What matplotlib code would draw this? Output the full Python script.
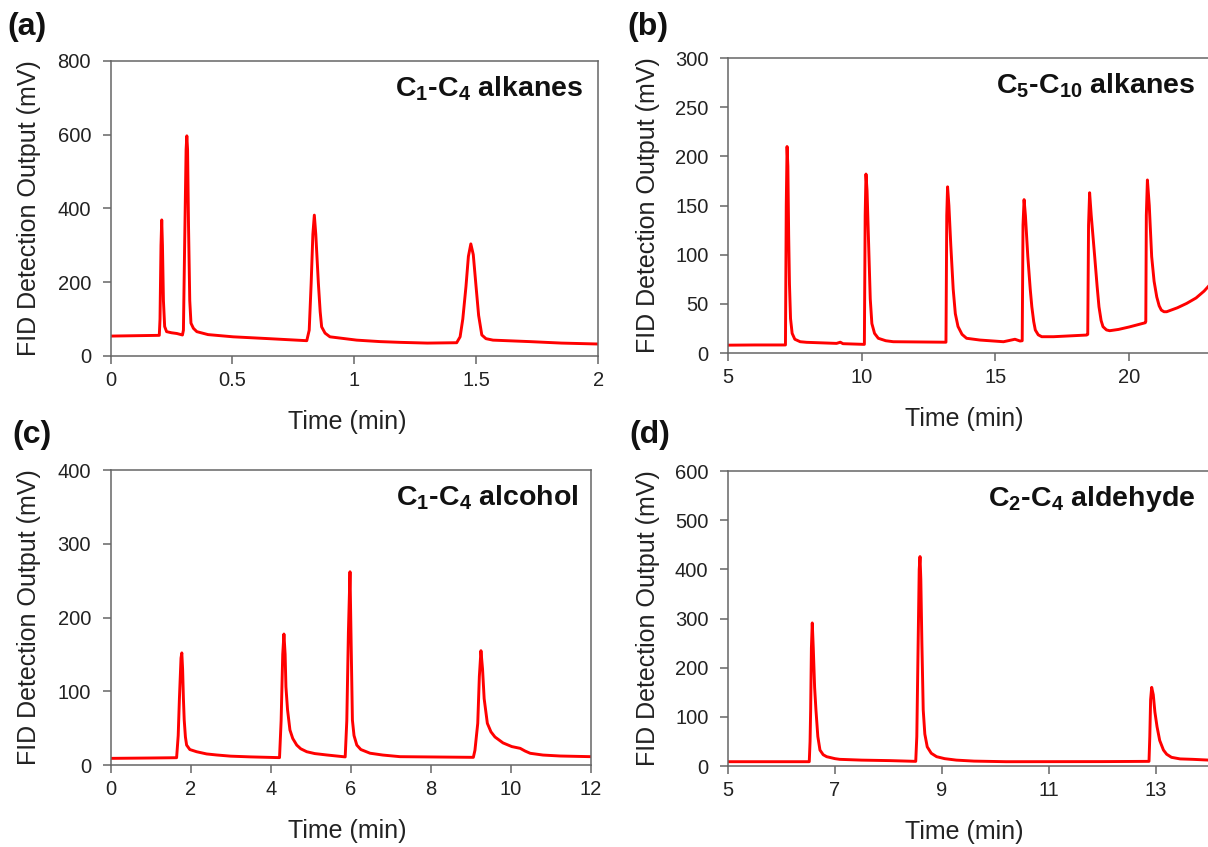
import matplotlib
matplotlib.use("Agg")
import matplotlib.pyplot as plt

plt.rcParams['font.family'] = ['Liberation Sans', 'DejaVu Sans']
plt.rcParams['mathtext.fontset'] = 'custom'
plt.rcParams['mathtext.rm'] = 'Liberation Sans:bold'
plt.rcParams['mathtext.default'] = 'regular'

# (a) C1-C4 alkanes
t_a = [0, 0.1, 0.2, 0.203, 0.207, 0.21, 0.213, 0.217, 0.222, 0.23, 0.25, 0.272,
       0.295, 0.299, 0.304, 0.31, 0.313, 0.316, 0.32, 0.325, 0.33, 0.34, 0.354,
       0.4, 0.503, 0.65, 0.805, 0.815, 0.823, 0.83, 0.836, 0.842, 0.8526, 0.86,
       0.866, 0.88, 0.9, 1.01, 1.106, 1.188, 1.3, 1.42, 1.434, 1.445, 1.458,
       1.468, 1.478, 1.488, 1.4995, 1.51, 1.523, 1.54, 1.569, 1.72, 1.85, 2.0]
v_a = [54, 55, 56, 100, 300, 369, 300, 150, 80, 66, 63, 61,
       57, 70, 300, 560, 597, 560, 350, 150, 89, 75, 66,
       58, 52, 47, 41.5, 70, 197, 330, 382, 330, 197, 120,
       79, 62, 52, 43, 39, 37, 35, 36, 52, 100, 188,
       270, 304, 275, 188, 110, 57, 47, 43, 39, 35, 32.5]

# (b) C5-C10 alkanes
t_b = [5, 6, 7.15, 7.18, 7.21, 7.24, 7.27, 7.3, 7.34, 7.4, 7.5, 7.7, 7.94,
       9.06, 9.2, 9.3, 10.1, 10.13, 10.16, 10.2, 10.26, 10.32, 10.38, 10.48,
       10.62, 10.9, 11.18, 13.15, 13.18, 13.21, 13.26, 13.33, 13.42, 13.5, 13.6,
       13.75, 13.92, 14.42, 15.3, 15.73, 15.92, 16.0, 16.03, 16.07, 16.12, 16.21,
       16.3, 16.36, 16.43, 16.49, 16.6, 16.73, 17.17, 18.41, 18.45, 18.48, 18.52,
       18.58, 18.71, 18.8, 18.87, 18.95, 19.02, 19.15, 19.27, 19.6, 20.0, 20.6,
       20.62, 20.64, 20.68, 20.75, 20.84, 20.93, 21.03, 21.12, 21.2, 21.3, 21.4,
       21.8, 22.15, 22.5, 22.8, 23.0]
v_b = [8, 8.2, 8.2, 150, 210, 190, 120, 70, 35, 20, 14, 11.5, 10.9,
       9.8, 11, 9.5, 8.8, 140, 182, 165, 110, 55, 30, 20,
       15, 12.5, 11.5, 11, 140, 169, 150, 110, 65, 40, 27,
       19, 15, 13.2, 11.5, 14, 12.2, 12.5, 130, 156, 140, 98,
       65, 47, 32, 23.4, 18.5, 16.6, 16.6, 18.3, 19, 130, 163,
       140, 98, 68, 47, 33, 26.8, 23.5, 22.7, 24, 26.5, 30.8,
       32, 140, 176, 150, 98, 73, 57, 48, 43.7, 42, 42,
       46, 50.5, 56, 63, 69]

# (c) C1-C4 alcohol
t_c = [0, 1.0, 1.65, 1.69, 1.72, 1.76, 1.78, 1.8, 1.82, 1.84, 1.87, 1.9, 1.98,
       2.15, 2.4, 2.65, 3.0, 3.5, 4.22, 4.26, 4.3, 4.33, 4.36, 4.38, 4.42, 4.48,
       4.55, 4.65, 4.75, 4.9, 5.1, 5.4, 5.86, 5.9, 5.94, 5.98, 6.01, 6.04, 6.08,
       6.15, 6.25, 6.48, 6.8, 7.23, 9.06, 9.1, 9.17, 9.21, 9.25, 9.29, 9.33, 9.41,
       9.5, 9.6, 9.8, 10.02, 10.15, 10.23, 10.35, 10.48, 10.8, 11.23, 12.0]
v_c = [9, 9.5, 9.9, 40, 90, 145, 152, 130, 90, 61, 38, 27, 21,
       18, 15, 13.6, 12, 11, 10, 60, 150, 177.6, 150, 106, 75, 47.5,
       36, 27, 22, 18, 15.5, 13.6, 11, 60, 180, 262, 160, 61, 40,
       27, 21, 16, 13.5, 11.3, 10.4, 20, 56.5, 120, 155, 130, 90, 56.5,
       45, 38, 30, 25, 23.5, 22.6, 19, 15.9, 13.5, 12.2, 11.3]

# (d) C2-C4 aldehyde
t_d = [5, 6.0, 6.52, 6.535, 6.546, 6.56, 6.576, 6.595, 6.62, 6.645, 6.68, 6.72,
       6.78, 6.845, 7.0, 7.09, 7.5, 8.03, 8.51, 8.53, 8.555, 8.575, 8.59, 8.605,
       8.625, 8.65, 8.68, 8.725, 8.8, 8.9, 9.05, 9.27, 9.6, 10.2, 12.0, 12.87,
       12.885, 12.9, 12.92, 12.95, 12.98, 13.02, 13.07, 13.14, 13.2, 13.29, 13.45,
       13.69, 14.0]
v_d = [8.8, 8.8, 8.8, 50, 114, 240, 291, 240, 160, 114, 60, 32.5,
       23, 19, 15, 13.6, 12, 11, 9.5, 60, 250, 400, 426, 380,
       250, 114, 65, 39, 26, 19, 15, 12, 10, 8.8, 9, 9.5,
       60, 135, 160, 145, 110, 80, 52, 32.5, 24, 17.7, 14.5,
       13.6, 12]

panels = [
    # rect, t, v, xlim, xticks, ylim, yticks, panel label, title, title x, xlabel x, ylabel x
    ([0.0915, 0.5797, 0.4036, 0.3483], t_a, v_a, (0, 2), [0, 0.5, 1, 1.5, 2],
     ['0', '0.5', '1', '1.5', '2'], (0, 800), range(0, 801, 200), '(a)',
     r'C$_{1}$-C$_{4}$ alkanes', 0.969, 0.485, -0.167),
    ([0.6026, 0.5832, 0.4429, 0.3483], t_b, v_b, (5, 25), [5, 10, 15, 20],
     ['5', '10', '15', '20'], (0, 300), range(0, 301, 50), '(b)',
     r'C$_{5}$-C$_{10}$ alkanes', 0.873, 0.441, -0.150),
    ([0.0915, 0.0968, 0.3978, 0.3483], t_c, v_c, (0, 12), range(0, 13, 2),
     ['0', '2', '4', '6', '8', '10', '12'], (0, 400), range(0, 401, 100), '(c)',
     r'C$_{1}$-C$_{4}$ alcohol', 0.973, 0.492, -0.170),
    ([0.6026, 0.0956, 0.4429, 0.3483], t_d, v_d, (5, 15), range(5, 14, 2),
     ['5', '7', '9', '11', '13'], (0, 600), range(0, 601, 100), '(d)',
     r'C$_{2}$-C$_{4}$ aldehyde', 0.873, 0.441, -0.150),
]

label_pos = [(0.006, 0.986), (0.519, 0.986), (0.010, 0.504), (0.521, 0.504)]

fig = plt.figure(figsize=(12.08, 8.47), dpi=100)

for i, p in enumerate(panels):
    rect, t, v, xlim, xt, xtl, ylim, yt, plabel, title, tx, lx, ly = p
    ax = fig.add_axes(rect)
    ax.plot(t, v, color='#ff0000', lw=2.1, solid_joinstyle='round')
    ax.set_xlim(*xlim)
    ax.set_ylim(*ylim)
    ax.set_xticks(list(xt))
    ax.set_xticklabels(xtl)
    ax.set_yticks(list(yt))
    for s in ax.spines.values():
        s.set_color('#666666')
        s.set_linewidth(1.1)
    ax.tick_params(direction='out', length=6, width=1.1, color='#666666',
                   labelsize=14.5, labelcolor='#222222')
    ax.tick_params(axis='y', pad=8)
    ax.tick_params(axis='x', pad=5)
    ax.text(ly, 0.5, 'FID Detection Output (mV)', transform=ax.transAxes,
            rotation=90, ha='center', va='center', fontsize=18, color='#222222')
    ax.text(lx, -0.225, 'Time (min)', transform=ax.transAxes, ha='center',
            va='center', fontsize=18, color='#222222')
    ax.text(tx, 0.905, title, transform=ax.transAxes, ha='right', va='center',
            fontsize=20.5, fontweight='bold', color='#111111')
    fig.text(label_pos[i][0], label_pos[i][1], plabel, ha='left', va='top',
             fontsize=23, fontweight='bold', color='#111111')

fig.savefig('out.png', dpi=100)
